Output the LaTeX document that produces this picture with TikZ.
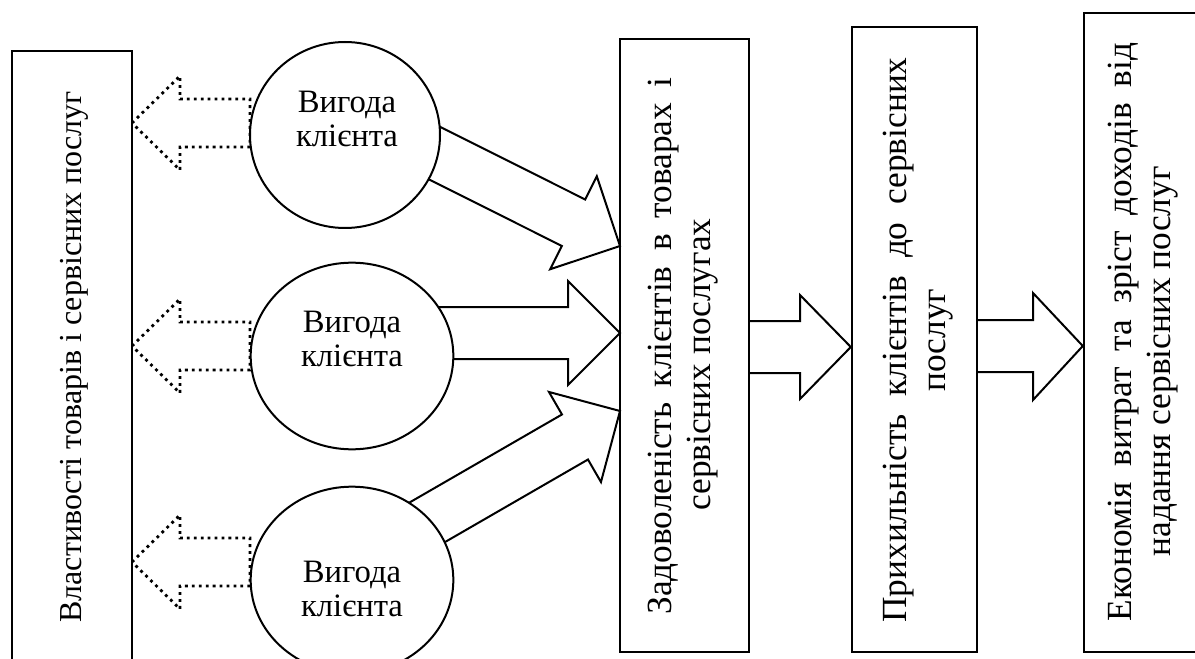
\documentclass[tikz,border=0pt]{standalone}
\usepackage{fontspec}
\setmainfont{Liberation Serif}
\usetikzlibrary{shapes.geometric}
\begin{document}
\begin{tikzpicture}[x=0.75pt,y=-0.75pt,
  boxtext/.style={rotate=90,align=center,font=\fontsize{26.5}{29.5}\selectfont,inner sep=0pt},
  circtext/.style={align=center,font=\fontsize{24.5}{25}\selectfont,inner sep=0pt},
  frame/.style={draw,line width=1.8pt,inner sep=0pt},
  benefit/.style={draw,ellipse,fill=white,line width=1.5pt,minimum width=150pt,minimum height=140pt,inner sep=0pt},
  blockarrow/.style={draw,fill=white,line width=1.5pt,line join=miter},
  dotarrow/.style={draw,line width=2.1pt,dash pattern=on 2.1pt off 3.1pt,line cap=butt}
]
\path[use as bounding box] (0,0) rectangle (1195,659);
\clip (0,0) rectangle (1195,659);

% boxes
\node[frame,minimum width=90pt,minimum height=495pt] (b1) at (72,381) {};
\node[frame,minimum width=96.75pt,minimum height=459.75pt] (b2) at (684.5,345.5) {};
\node[frame,minimum width=93.75pt,minimum height=468.75pt] (b3) at (914.5,339.5) {};
\node[frame,minimum width=90.75pt,minimum height=479.25pt] (b4) at (1144.5,332.5) {};

\node[boxtext,font=\fontsize{24}{29}\selectfont] (t1) at (74,357) {Властивості товарів і сервісних послуг};
\node[boxtext] (t2) at (683,346) {\makebox[403pt][s]{Задоволеність клієнтів в товарах і}\\\hspace*{-28pt}сервісних послугах};
\node[boxtext] (t3) at (918,340) {\makebox[424pt][s]{Прихильність клієнтів до сервісних}\\послуг};
\node[boxtext] (t4) at (1143,332) {\makebox[434pt][s]{Економія витрат та зріст доходів від}\\\hspace*{-44pt}надання сервісних послуг};

% dotted arrows from benefits to properties
\foreach \yc/\n in {123/1,346/2,562/3}{
  \coordinate (d\n) at (132,\yc);
  \draw[dotarrow] (d\n) -- ++(48,-47) -- ++(0,23) -- ++(70,0) -- ++(0,48) -- ++(-70,0) -- ++(0,23) -- cycle;
}

% block arrows from benefits to satisfaction
\coordinate (pa) at (620,246);
\coordinate (pb) at (620,333);
\coordinate (pc) at (620,411);
\begin{scope}[shift={(pa)},rotate=-26.6]
  \draw[blockarrow] (0,0) -- (-52,-52) -- (-52,-26) -- (-240,-26) -- (-240,26) -- (-52,26) -- (-52,52) -- cycle;
\end{scope}
\begin{scope}[shift={(pb)}]
  \draw[blockarrow] (0,0) -- (-52,-52) -- (-52,-26) -- (-200,-26) -- (-200,26) -- (-52,26) -- (-52,52) -- cycle;
\end{scope}
\begin{scope}[shift={(pc)},rotate=30]
  \draw[blockarrow] (0,0) -- (-52,-52) -- (-52,-26) -- (-250,-26) -- (-250,26) -- (-52,26) -- (-52,52) -- cycle;
\end{scope}

% benefit circles
\node[benefit,minimum width=142.5pt,minimum height=139.5pt] (c1) at (345,135) {};
\node[benefit,minimum width=152pt] (c2) at (352,356) {};
\node[benefit,minimum width=152pt] (c3) at (352,580) {};
\node[circtext] (ct1) at (347,119) {Вигода\\клієнта};
\node[circtext] (ct2) at (352,339) {Вигода\\клієнта};
\node[circtext] (ct3) at (352,589) {Вигода\\клієнта};

% block arrows between boxes
\coordinate (pd) at (b3.west |- 0,347);
\coordinate (pe) at (b4.west |- 0,346);
\draw[blockarrow] (b2.east |- 0,321) -- (800,321) -- (800,295) -- (pd) -- (800,399) -- (800,373) -- (b2.east |- 0,373);
\draw[blockarrow] (b3.east |- 0,320) -- (1033,320) -- (1033,293) -- (pe) -- (1033,400) -- (1033,372) -- (b3.east |- 0,372);
\end{tikzpicture}
\end{document}
